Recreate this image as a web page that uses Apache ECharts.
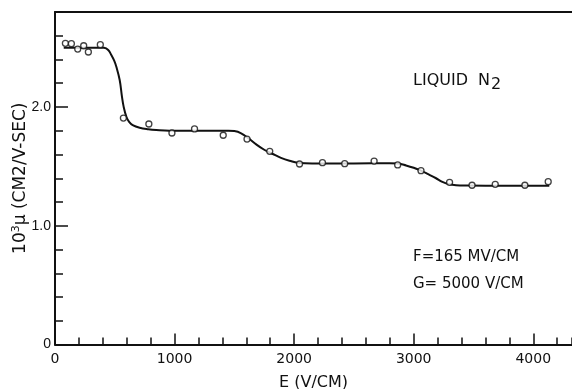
<!DOCTYPE html>
<html>
<head>
<meta charset="utf-8">
<title>Liquid N2 mobility</title>
<script src="https://cdn.jsdelivr.net/npm/echarts@6/dist/echarts.min.js"></script>
</head>
<body style="margin:0;background:#fff">
<div id="main" style="width:572px;height:389px;"></div>
<script type="text/javascript">
// measured points (open circles)
var pointE = [87, 137, 190, 240, 279, 379, 572, 785, 978, 1167, 1407, 1606, 1796, 2045, 2237, 2423, 2669, 2866, 3061, 3300, 3488, 3682, 3930, 4125];
var pointMu = [2.536, 2.533, 2.488, 2.516, 2.463, 2.525, 1.907, 1.857, 1.781, 1.815, 1.762, 1.730, 1.627, 1.520, 1.531, 1.523, 1.545, 1.512, 1.464, 1.366, 1.341, 1.349, 1.341, 1.371];

// fitted curve
var curveE = [73, 200, 350, 410, 445, 471, 495, 513, 541, 560, 574, 597, 620, 650, 708, 780, 847, 958, 1200, 1450, 1500, 1557, 1627, 1683, 1750, 1822, 1890, 1961, 2045, 2150, 2500, 2800, 2870, 2936, 3000, 3061, 3125, 3187, 3240, 3290, 3354, 3450, 3600, 4134];
var curveMu = [2.50, 2.50, 2.50, 2.498, 2.48, 2.438, 2.39, 2.339, 2.227, 2.087, 2.003, 1.918, 1.875, 1.848, 1.826, 1.813, 1.806, 1.80, 1.80, 1.80, 1.797, 1.778, 1.73, 1.685, 1.64, 1.604, 1.572, 1.548, 1.528, 1.525, 1.525, 1.527, 1.524, 1.508, 1.488, 1.464, 1.432, 1.40, 1.37, 1.352, 1.341, 1.338, 1.337, 1.337];

var xMajor = ['0', '1000', '2000', '3000', '4000'];
var yMajor = ['0', '1.0', '2.0'];

var font = 'DejaVu Sans';
var narrow = 'Liberation Sans';
var ink = '#111';

var points = [];
for (var i = 0; i < pointE.length; ++i) {
    points.push([pointE[i], pointMu[i]]);
}
var curve = [];
for (var i = 0; i < curveE.length; ++i) {
    curve.push([curveE[i], curveMu[i]]);
}

var myChart = echarts.init(document.getElementById('main'));

var option = {
    animation: false,
    backgroundColor: '#fff',
    grid: {left: 55, right: 0, top: 12, bottom: 44.5, outerBoundsMode: 'none', containLabel: false},
    xAxis: [{
        type: 'value', min: 0, max: 4324, interval: 200, position: 'bottom',
        axisLine: {lineStyle: {color: ink, width: 2}},
        axisTick: {inside: true, length: 7, lineStyle: {color: ink, width: 1.5}},
        axisLabel: {show: false},
        splitLine: {show: false},
        name: 'E (V/CM)', nameLocation: 'middle', nameGap: 30,
        nameTextStyle: {fontFamily: font, fontSize: 16, color: ink}
    }, {
        type: 'value', min: 0, max: 4324, interval: 1000, position: 'bottom',
        axisLine: {show: false},
        axisTick: {inside: true, length: 11, lineStyle: {color: ink, width: 1.5}},
        axisLabel: {
            margin: 8, fontFamily: font, fontSize: 14, color: ink, showMaxLabel: false,
            formatter: function (v) { return xMajor[Math.round(v / 1000)] || ''; }
        },
        splitLine: {show: false}
    }, {
        type: 'value', min: 0, max: 4324, position: 'top',
        axisLine: {lineStyle: {color: ink, width: 2}},
        axisTick: {show: false}, axisLabel: {show: false}, splitLine: {show: false}
    }],
    yAxis: [{
        type: 'value', min: 0, max: 2.8, interval: 0.2, position: 'left',
        axisLine: {show: true, lineStyle: {color: ink, width: 2}},
        axisTick: {show: true, inside: true, length: 8, lineStyle: {color: ink, width: 1.5}},
        axisLabel: {show: false},
        splitLine: {show: false},
        name: '{n|10}{s|3}{m|\u03bc (CM2/V-SEC)}', nameLocation: 'middle', nameRotate: 90, nameGap: 25,
        nameTextStyle: {
            fontFamily: font, color: ink,
            rich: {
                n: {fontFamily: font, fontSize: 17, color: ink},
                s: {fontFamily: font, fontSize: 11, color: ink, verticalAlign: 'top', padding: [0, 0, 8, 0]},
                m: {fontFamily: font, fontSize: 17, color: ink}
            }
        }
    }, {
        type: 'value', min: 0, max: 2.8, interval: 1.0, position: 'left',
        axisLine: {show: false},
        axisTick: {show: true, inside: true, length: 13, lineStyle: {color: ink, width: 1.5}},
        axisLabel: {
            margin: 4, fontFamily: narrow, fontSize: 14, color: ink, showMaxLabel: false,
            formatter: function (v) { return yMajor[Math.round(v)] || ''; }
        },
        splitLine: {show: false}
    }],
    graphic: [{
        type: 'text', left: 413, top: 73,
        style: {
            text: '{a|LIQUID}{c|N}{b|2}', fill: ink,
            rich: {
                a: {fontFamily: font, fontSize: 16, fill: ink},
                c: {fontFamily: font, fontSize: 16, fill: ink, padding: [0, 0, 0, 10]},
                b: {fontFamily: font, fontSize: 16, fill: ink, padding: [8, 0, 0, 1]}
            }
        }
    }, {
        type: 'text', left: 413, top: 250,
        style: {text: 'F=165 MV/CM', fontFamily: font, fontSize: 15, fill: ink}
    }, {
        type: 'text', left: 413, top: 277,
        style: {text: 'G= 5000 V/CM', fontFamily: font, fontSize: 15, fill: ink}
    }],
    series: [{
        name: 'fit',
        type: 'line',
        data: curve,
        smooth: 0.4,
        showSymbol: false,
        lineStyle: {color: ink, width: 2}
    }, {
        name: 'data',
        type: 'scatter',
        data: points,
        symbol: 'circle',
        symbolSize: 6,
        itemStyle: {color: '#fff', borderColor: ink, borderWidth: 1.3},
        z: 3
    }]
};
myChart.setOption(option);
</script>
</body>
</html>
